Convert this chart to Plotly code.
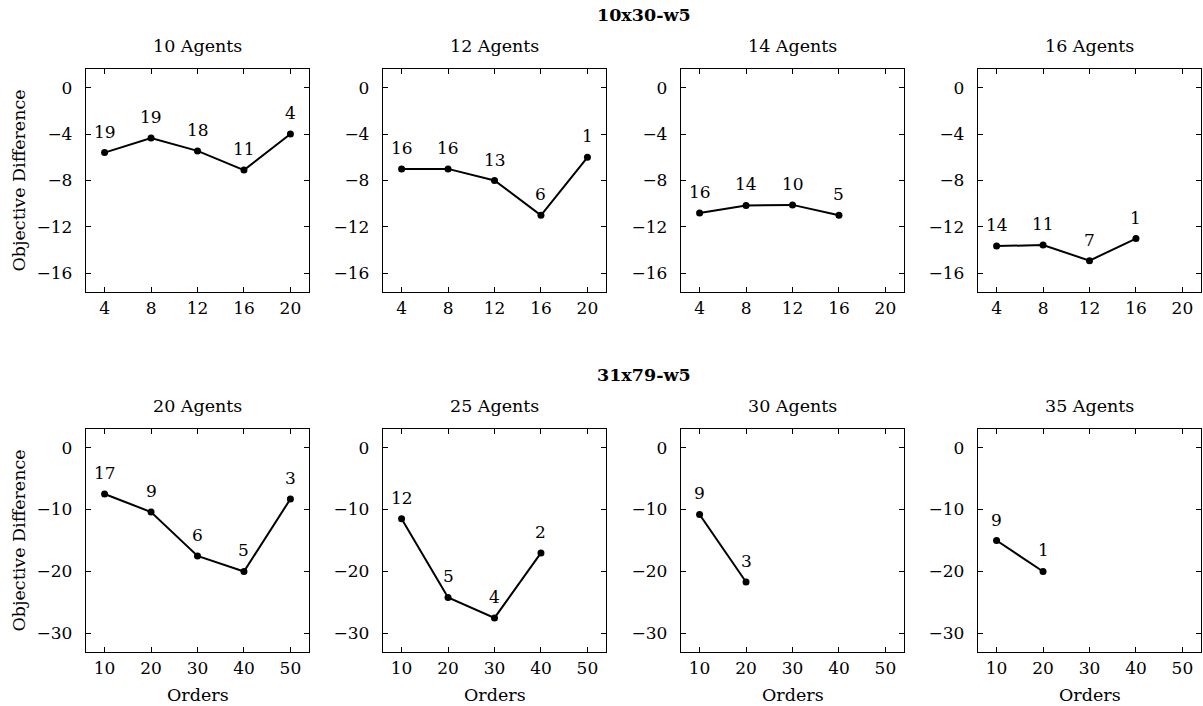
import plotly.graph_objects as go

W, H = 1203, 706

# ---- data ----
row_titles = ["10x30-w5", "31x79-w5"]
top_panels = ["10 Agents", "12 Agents", "14 Agents", "16 Agents"]
bot_panels = ["20 Agents", "25 Agents", "30 Agents", "35 Agents"]

top_orders = [[4, 8, 12, 16, 20], [4, 8, 12, 16, 20], [4, 8, 12, 16], [4, 8, 12, 16]]
top_diff = [[-5.6, -4.35, -5.45, -7.1, -4.0],
            [-7.0, -7.0, -8.0, -11.0, -6.0],
            [-10.8, -10.15, -10.1, -11.0],
            [-13.65, -13.55, -14.9, -13.0]]
top_counts = [[19, 19, 18, 11, 4], [16, 16, 13, 6, 1], [16, 14, 10, 5], [14, 11, 7, 1]]

bot_orders = [[10, 20, 30, 40, 50], [10, 20, 30, 40], [10, 20], [10, 20]]
bot_diff = [[-7.5, -10.4, -17.5, -20.0, -8.3],
            [-11.5, -24.2, -27.5, -17.0],
            [-10.8, -21.7],
            [-15.0, -20.0]]
bot_counts = [[17, 9, 6, 5, 3], [12, 5, 4, 2], [9, 3], [9, 1]]

top_xticks = [4, 8, 12, 16, 20]
top_yticks = [0, -4, -8, -12, -16]
bot_xticks = [10, 20, 30, 40, 50]
bot_yticks = [0, -10, -20, -30]

FONT = "DejaVu Serif"
FS = 17
TFS = 17.5

# ---- layout geometry (pixels) ----
col_x0 = [86, 383, 681, 978]
pw = 223
row_y0 = [69, 429]
ph = 223

fig = go.Figure()
annotations = []

rows = [
    (top_panels, top_orders, top_diff, top_counts, top_xticks, top_yticks, [2.4, 21.6], [-17.6, 1.6]),
    (bot_panels, bot_orders, bot_diff, bot_counts, bot_xticks, bot_yticks, [6, 54], [-33, 3]),
]

def px_x(x):
    return x / W

def px_y(y):
    return 1 - y / H

idx = 0
for r, (titles, xs_all, ys_all, cs_all, xt, yt, xr, yr) in enumerate(rows):
    for c in range(4):
        idx += 1
        xa = "x" if idx == 1 else f"x{idx}"
        ya = "y" if idx == 1 else f"y{idx}"
        fig.add_trace(go.Scatter(
            x=xs_all[c], y=ys_all[c], mode="lines+markers",
            line=dict(color="black", width=2),
            marker=dict(color="black", size=7),
            xaxis=xa, yaxis=ya, showlegend=False, hoverinfo="skip"))
        for xv, yv, cv in zip(xs_all[c], ys_all[c], cs_all[c]):
            annotations.append(dict(x=xv, y=yv, xref=xa, yref=ya, text=str(cv),
                                    showarrow=False, yshift=21, xanchor="center",
                                    font=dict(family=FONT, size=FS, color="black")))
        x0 = col_x0[c]
        y0 = row_y0[r]
        axis_common = dict(showline=True, linecolor="black", linewidth=1.3, mirror="ticks",
                           ticks="inside", ticklen=5, tickwidth=1, tickcolor="black",
                           showgrid=False, zeroline=False,
                           tickfont=dict(family=FONT, size=FS, color="black"))
        fig.layout[("xaxis" if idx == 1 else f"xaxis{idx}")] = dict(
            axis_common, domain=[px_x(x0), px_x(x0 + pw)], range=xr, tickvals=xt,
            anchor=ya, ticklabelstandoff=0)
        fig.layout[("yaxis" if idx == 1 else f"yaxis{idx}")] = dict(
            axis_common, domain=[px_y(y0 + ph), px_y(y0)], range=yr, tickvals=yt,
            anchor=xa, ticklabelstandoff=9)
        # panel title
        annotations.append(dict(x=px_x(x0 + pw / 2), y=px_y(y0 - 23), xref="paper", yref="paper",
                                text=titles[c], showarrow=False, xanchor="center", yanchor="middle",
                                font=dict(family=FONT, size=TFS, color="black")))
        if r == 1:
            annotations.append(dict(x=px_x(x0 + pw / 2), y=px_y(y0 + ph + 43), xref="paper", yref="paper",
                                    text="Orders", showarrow=False, xanchor="center", yanchor="middle",
                                    font=dict(family=FONT, size=TFS, color="black")))
    # row y-title
    annotations.append(dict(x=px_x(18), y=px_y(row_y0[r] + ph / 2), xref="paper", yref="paper",
                            text="Objective Difference", textangle=-90, showarrow=False,
                            xanchor="center", yanchor="middle",
                            font=dict(family=FONT, size=TFS, color="black")))
    # row super title
    annotations.append(dict(x=px_x((col_x0[0] + col_x0[3] + pw) / 2), y=px_y(row_y0[r] - 54),
                            xref="paper", yref="paper", text=f"<b>{row_titles[r]}</b>",
                            showarrow=False, xanchor="center", yanchor="middle",
                            font=dict(family=FONT, size=TFS, color="black")))

fig.update_layout(width=W, height=H, margin=dict(l=0, r=0, t=0, b=0),
                  plot_bgcolor="white", paper_bgcolor="white",
                  annotations=annotations)

fig.write_html("out.html")
